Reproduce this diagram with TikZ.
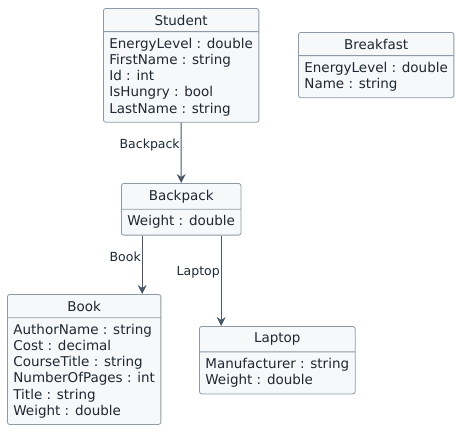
\documentclass[tikz,border=0pt]{standalone}
\usepackage{fontspec}
\setmainfont{DejaVu Sans}
\usetikzlibrary{shapes.multipart,arrows.meta}
\definecolor{classfill}{HTML}{F7F8FA}
\definecolor{classline}{HTML}{8E99A5}
\definecolor{classtext}{HTML}{1E2833}
\definecolor{assocline}{HTML}{4A5565}
\tikzset{
	umlclass/.style={rectangle split, rectangle split parts=2, draw=classline, fill=classfill,
		rounded corners=2.5pt, anchor=north west, align=left, rectangle split part align={center,left},
		font=\fontsize{13.5}{16.2}\selectfont, text=classtext, inner xsep=6pt, inner ysep=6pt, line width=0.8pt},
	assoc/.style={draw=assocline, line width=0.9pt, -{Stealth[length=9pt,width=9pt,inset=3pt]}},
	rolelabel/.style={anchor=east, font=\fontsize{12.5}{15}\selectfont, text=classtext, inner sep=1pt}
}

\begin{document}
\begin{tikzpicture}
		%%%%% START %%%%%
		
		\useasboundingbox (0pt,0pt) rectangle (471pt,-439pt);
		
		\node[umlclass] (student) at (103pt,-8pt) {Student
			\nodepart{second}EnergyLevel : double\\FirstName : string\\Id : int\\IsHungry : bool\\LastName : string};
		\node[umlclass] (breakfast) at (298pt,-32pt) {Breakfast
			\nodepart{second}EnergyLevel : double\\Name : string};
		\node[umlclass] (backpack) at (121pt,-183pt) {Backpack
			\nodepart{second}Weight : double};
		\node[umlclass] (book) at (7pt,-294pt) {Book
			\nodepart{second}AuthorName : string\\Cost : decimal\\CourseTitle : string\\NumberOfPages : int\\Title : string\\Weight : double};
		\node[umlclass] (laptop) at (199pt,-326pt) {Laptop
			\nodepart{second}Manufacturer : string\\Weight : double};
		
		\draw[assoc] (student.south) -- node[rolelabel, pos=0.37] (bplabel) {Backpack} (backpack.north);
		\draw[assoc] ([xshift=-39pt]backpack.south) -- node[rolelabel, pos=0.36] (booklabel) {Book} ([xshift=-39pt]backpack.south |- book.north);
		\draw[assoc] ([xshift=40pt]backpack.south) -- node[rolelabel, pos=0.41] (laptoplabel) {Laptop} ([xshift=40pt]backpack.south |- laptop.north);
		
		%%%%% END %%%%%
	\end{tikzpicture}
\end{document}
